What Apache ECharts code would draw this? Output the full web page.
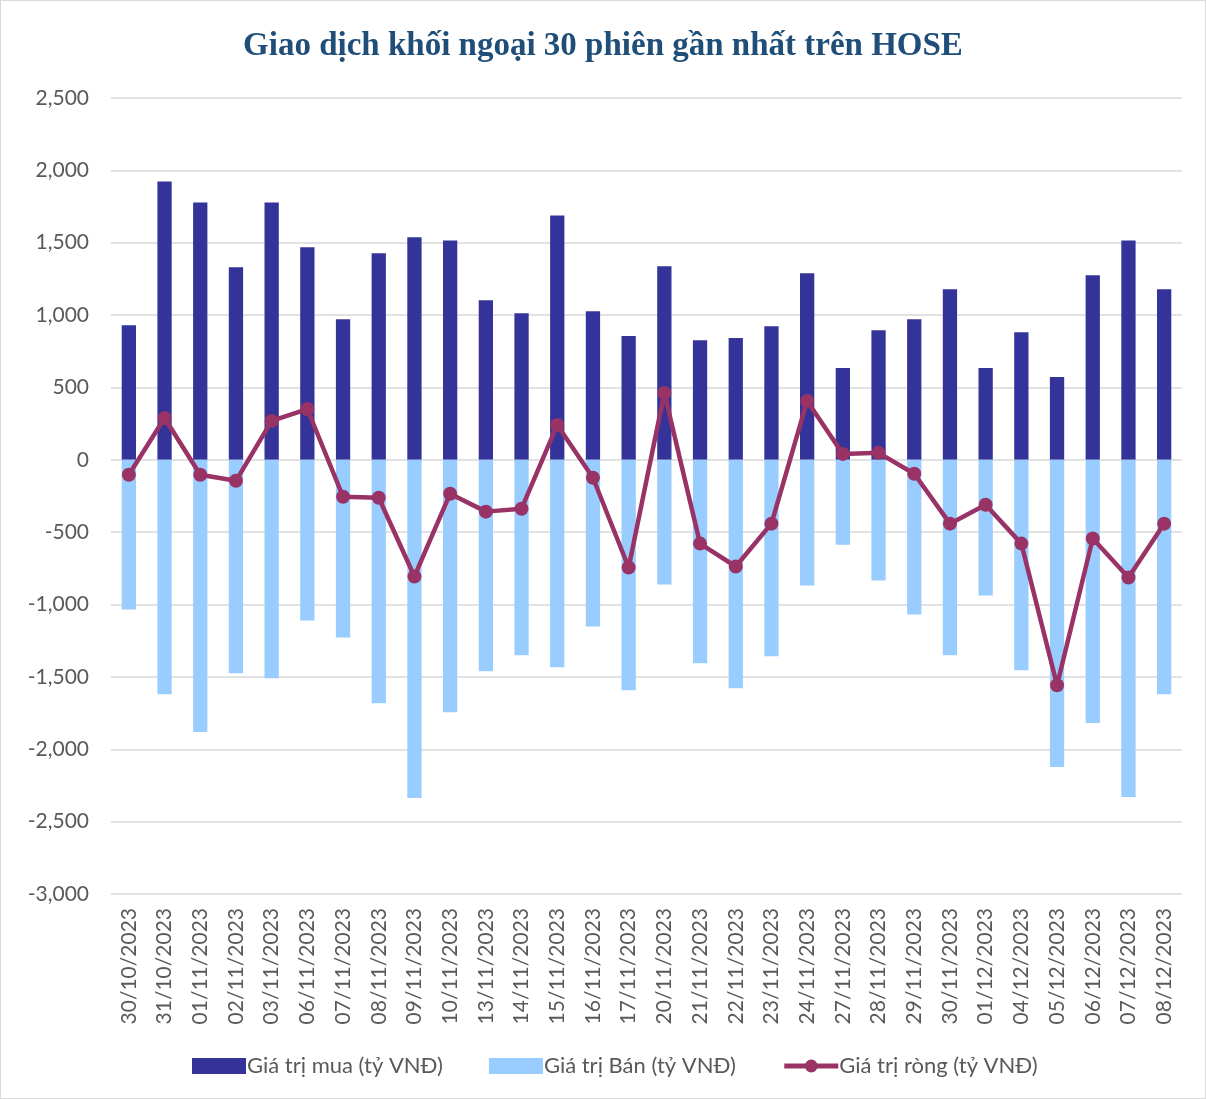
<!DOCTYPE html>
<html>
<head>
<meta charset="utf-8">
<script src="https://cdn.jsdelivr.net/npm/echarts@6/dist/echarts.min.js"></script>
<style>
  html, body { margin: 0; padding: 0; background: #fff; }
  #chart { width: 1206px; height: 1099px; box-sizing: border-box; border: 1px solid #d9d9d9; }
</style>
</head>
<body>
<div id="chart"></div>
<script>
const dates = ['30/10/2023','31/10/2023','01/11/2023','02/11/2023','03/11/2023','06/11/2023','07/11/2023','08/11/2023','09/11/2023','10/11/2023',
  '13/11/2023','14/11/2023','15/11/2023','16/11/2023','17/11/2023','20/11/2023','21/11/2023','22/11/2023','23/11/2023','24/11/2023',
  '27/11/2023','28/11/2023','29/11/2023','30/11/2023','01/12/2023','04/12/2023','05/12/2023','06/12/2023','07/12/2023','08/12/2023'];
const buyValues = [930,1923,1778,1330,1778,1468,972,1427,1537,1516,1103,1013,1688,1027,855,1337,827,841,923,1289,634,896,972,1178,634,882,572,1275,1516,1178];
const sellValues = [-1034,-1620,-1881,-1475,-1509,-1110,-1227,-1682,-2336,-1744,-1461,-1351,-1434,-1151,-1592,-861,-1406,-1578,-1358,-868,-586,-834,-1068,-1351,-937,-1454,-2123,-1819,-2329,-1620];
const netValues = [-103,289,-103,-145,269,351,-255,-262,-806,-234,-358,-338,241,-124,-744,462,-579,-737,-441,407,41,48,-96,-441,-310,-579,-1558,-544,-813,-441];

const chart = echarts.init(document.getElementById('chart'));
const gray = '#595959';
chart.setOption({
  animation: false,
  title: {
    text: 'Giao dịch khối ngoại 30 phiên gần nhất trên HOSE',
    left: 'center',
    top: 24,
    textStyle: { fontFamily: 'Liberation Serif', fontWeight: 'bold', fontSize: 33, color: '#1F4E79' }
  },
  legend: {
    bottom: 16,
    left: 186,
    itemGap: 46,
    itemWidth: 54,
    itemHeight: 16,
    textStyle: { fontFamily: 'Lato', fontSize: 22, color: gray, padding: [0, 0, 0, -4] },
    data: [
      { name: 'Giá trị mua (tỷ VNĐ)', icon: 'rect' },
      { name: 'Giá trị Bán (tỷ VNĐ)', icon: 'rect' },
      { name: 'Giá trị ròng (tỷ VNĐ)', lineStyle: { width: 5 } }
    ]
  },
  grid: { left: 110, right: 23, top: 97, bottom: 204 },
  xAxis: {
    type: 'category',
    data: dates,
    axisLine: { show: false },
    axisTick: { show: false },
    axisLabel: { rotate: 90, interval: 0, fontFamily: 'Lato', fontSize: 21, color: gray, margin: 14 }
  },
  yAxis: {
    type: 'value',
    min: -3000,
    max: 2500,
    interval: 500,
    axisLabel: {
      fontFamily: 'Lato', fontSize: 21, color: gray, margin: 22,
      formatter: v => v.toLocaleString('en-US')
    },
    splitLine: { lineStyle: { color: '#d9d9d9', width: 1.5 } }
  },
  series: [
    {
      name: 'Giá trị mua (tỷ VNĐ)',
      type: 'bar',
      stack: 'tx',
      barWidth: '40%',
      itemStyle: { color: '#333399' },
      data: buyValues
    },
    {
      name: 'Giá trị Bán (tỷ VNĐ)',
      type: 'bar',
      stack: 'tx',
      barWidth: '40%',
      itemStyle: { color: '#99CCFF' },
      data: sellValues
    },
    {
      name: 'Giá trị ròng (tỷ VNĐ)',
      type: 'line',
      symbol: 'circle',
      symbolSize: 14,
      lineStyle: { color: '#993366', width: 4.5 },
      itemStyle: { color: '#993366' },
      data: netValues,
      z: 5
    }
  ]
});
</script>
</body>
</html>
